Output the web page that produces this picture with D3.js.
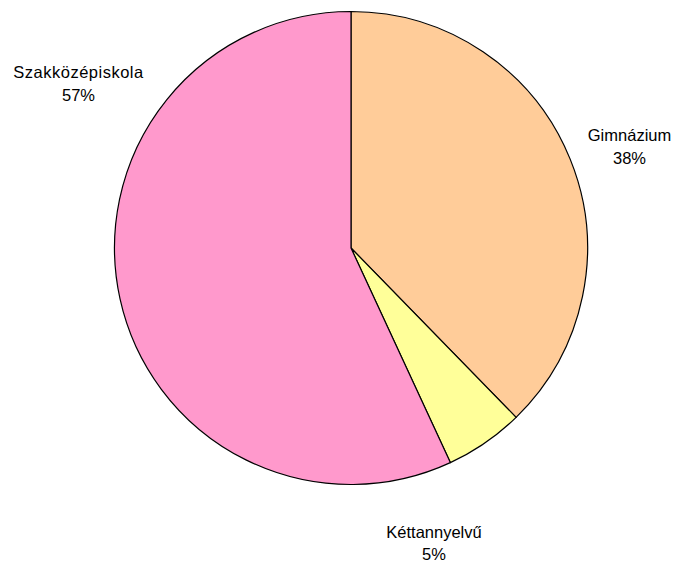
<!DOCTYPE html>
<html>
<head>
<meta charset="utf-8">
<script src="https://cdn.jsdelivr.net/npm/d3@7"></script>
<style>
  body { margin: 0; background: #fff; }
  text { font-family: "Liberation Sans", Arial, sans-serif; font-size: 16.5px; fill: #000; }
</style>
</head>
<body>
<svg id="chart" width="677" height="563"></svg>
<script>
// school types and their share of students (percent)
const categories = ['Gimnázium', 'Kéttannyelvű', 'Szakközépiskola'];
const shares = [37.7, 5.4, 56.9];
const colors = ['#FFCC99', '#FFFF99', '#FF99CC'];

const cx = 351;
const cy = 248;
const radius = 236.5;

// first-line baseline of each label, relative to pie centre (placed by hand like the original)
const labelOffsets = [[278.5, -107], [83, 289.5], [-272.5, -170]];

const data = categories.map((c, i) => ({ label: c, value: shares[i] }));
const total = d3.sum(shares);

const svg = d3.select('#chart');

const chart = svg.append('g')
  .attr('transform', `translate(${cx}, ${cy})`);

const pieGenerator = d3.pie()
  .value((d) => d.value)
  .sort(null);

const arcs = pieGenerator(data);

const arcDim = d3.arc()
  .innerRadius(0)
  .outerRadius(radius);

chart.selectAll('path')
  .data(arcs)
  .enter()
  .append('path')
  .attr('d', arcDim)
  .style('fill', (d, i) => colors[i])
  .style('stroke', '#000')
  .style('stroke-width', 1.2)
  .style('stroke-linejoin', 'round');

const pct = (v) => Math.round(v / total * 100) + '%';

const labels = chart.selectAll('text.slice-label')
  .data(arcs)
  .enter()
  .append('text')
  .attr('class', 'slice-label')
  .attr('text-anchor', 'middle')
  .attr('transform', (d, i) => `translate(${labelOffsets[i][0]}, ${labelOffsets[i][1]})`);

labels.append('tspan')
  .attr('x', 0)
  .attr('y', 0)
  .style('letter-spacing', (d, i) => i === 2 ? '0.5px' : null)
  .text((d) => d.data.label);

labels.append('tspan')
  .attr('x', 0)
  .attr('y', 22.5)
  .text((d) => pct(d.data.value));
</script>
</body>
</html>
